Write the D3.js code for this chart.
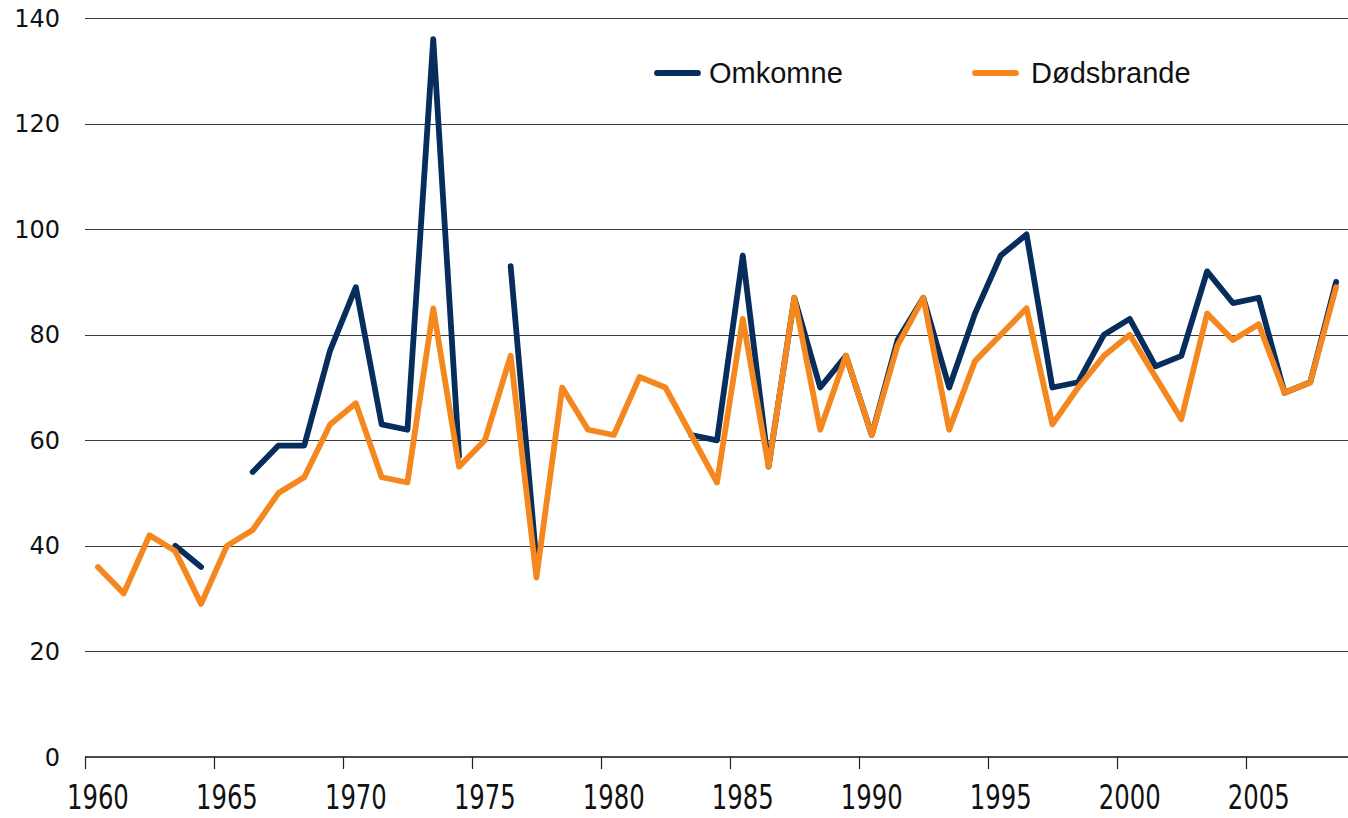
<!DOCTYPE html>
<html>
<head>
<meta charset="utf-8">
<script src="https://cdn.jsdelivr.net/npm/d3@7"></script>
<style>
  body { margin: 0; background: #fff; }
  #chart svg { display: block; }
</style>
</head>
<body>
<div id="chart"></div>
<script>
// years shown on the category axis
var years = d3.range(1960, 2009);

// Omkomne (null = no value)
var omkomne = [null, null, null, 40, 36, null, 54, 59, 59, 77,
               89, 63, 62, 136, 57, null, 93, 37, null, null,
               null, null, null, 61, 60, 95, 55, 87, 70, 76,
               61, 79, 87, 70, 84, 95, 99, 70, 71, 80,
               83, 74, 76, 92, 86, 87, 69, 71, 90];

// Dødsbrande
var dodsbrande = [36, 31, 42, 39, 29, 40, 43, 50, 53, 63,
                  67, 53, 52, 85, 55, 60, 76, 34, 70, 62,
                  61, 72, 70, 61, 52, 83, 55, 87, 62, 76,
                  61, 78, 87, 62, 75, 80, 85, 63, 70, 76,
                  80, 72, 64, 84, 79, 82, 69, 71, 89];

var yTicks = [0, 20, 40, 60, 80, 100, 120, 140];
var xLabelYears = [1960, 1965, 1970, 1975, 1980, 1985, 1990, 1995, 2000, 2005];

var seriesNames = ["Omkomne", "Dødsbrande"];
var seriesColors = ["#072d5c", "#f5871f"];

var width = 1348, height = 818;
var plotLeft = 85, plotRight = 1349, plotTop = 18, plotBottom = 757;

var svg = d3.select("#chart").append("svg")
    .attr("width", width)
    .attr("height", height);

var x = d3.scaleBand().domain(years).range([plotLeft, plotRight]).padding(0);
var y = d3.scaleLinear().domain([0, 140]).range([plotBottom, plotTop]);

// gridlines
svg.append("g")
    .selectAll("line")
    .data(yTicks.filter(function(d) { return d > 0; }))
    .enter().append("line")
    .attr("x1", plotLeft).attr("x2", plotRight)
    .attr("y1", function(d) { return Math.round(y(d)) + 0.5; })
    .attr("y2", function(d) { return Math.round(y(d)) + 0.5; })
    .style("stroke", "#3c3c3c")
    .style("stroke-width", 1.2);

// y labels
svg.append("g")
    .selectAll("text")
    .data(yTicks)
    .enter().append("text")
    .attr("x", 60)
    .attr("y", function(d) { return y(d); })
    .attr("dy", "0.36em")
    .style("text-anchor", "end")
    .style("font-family", "'DejaVu Sans', Verdana, sans-serif")
    .style("font-size", "24px")
    .style("fill", "#111")
    .text(function(d) { return d; });

// x axis
var xAxis = svg.append("g");
xAxis.append("line")
    .attr("x1", plotLeft).attr("x2", plotRight)
    .attr("y1", plotBottom).attr("y2", plotBottom)
    .style("stroke", "#111")
    .style("stroke-width", 1.5);

xAxis.selectAll(".tick")
    .data(xLabelYears)
    .enter().append("line")
    .attr("class", "tick")
    .attr("x1", function(d) { return Math.round(x(d)) + 0.5; })
    .attr("x2", function(d) { return Math.round(x(d)) + 0.5; })
    .attr("y1", plotBottom).attr("y2", plotBottom + 12)
    .style("stroke", "#222")
    .style("stroke-width", 1.2);

// condensed labels, squeezed a bit more to match the narrow face
xAxis.selectAll(".lbl")
    .data(xLabelYears)
    .enter().append("text")
    .attr("class", "lbl")
    .attr("transform", function(d) {
        return "translate(" + (x(d) + x.bandwidth() / 2) + ",809) scale(0.82,1)";
    })
    .style("text-anchor", "middle")
    .style("font-family", "'Liberation Sans Narrow', 'DejaVu Sans Condensed', sans-serif")
    .style("font-size", "33px")
    .style("fill", "#111")
    .text(function(d) { return d; });

// lines
var line = d3.line()
    .defined(function(d) { return d.v != null; })
    .x(function(d) { return x(d.year) + x.bandwidth() / 2; })
    .y(function(d) { return y(d.v); });

[omkomne, dodsbrande].forEach(function(vals, i) {
    var pts = years.map(function(yr, j) { return { year: yr, v: vals[j] }; });
    svg.append("path")
        .datum(pts)
        .attr("d", line)
        .style("fill", "none")
        .style("stroke", seriesColors[i])
        .style("stroke-width", 5.8)
        .style("stroke-linejoin", "round")
        .style("stroke-linecap", "round");
});

// legend
var legendX = [657, 975];
var legend = svg.append("g")
    .selectAll("g")
    .data(seriesNames)
    .enter().append("g")
    .attr("transform", function(d, i) { return "translate(" + legendX[i] + ",73)"; });

legend.append("line")
    .attr("x1", 0).attr("x2", 41)
    .attr("y1", 0).attr("y2", 0)
    .style("stroke", function(d, i) { return seriesColors[i]; })
    .style("stroke-width", 5.8)
    .style("stroke-linecap", "round");

legend.append("text")
    .attr("x", function(d, i) { return i === 0 ? 52 : 56; })
    .attr("dy", "0.36em")
    .style("font-family", "'Liberation Sans', Arial, sans-serif")
    .style("font-size", "29px")
    .style("fill", "#111")
    .text(function(d) { return d; });
</script>
</body>
</html>
